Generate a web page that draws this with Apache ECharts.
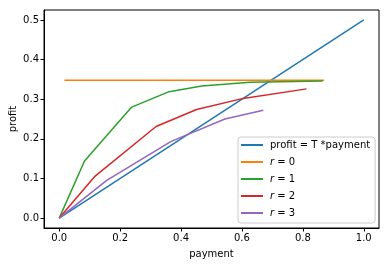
<!DOCTYPE html>
<html><head><meta charset="utf-8">
<script src="https://cdn.jsdelivr.net/npm/echarts@6/dist/echarts.min.js"></script>
<style>html,body{margin:0;padding:0;background:#fff}#c{width:389px;height:266px}</style>
</head><body><div id="c"></div>
<script>
var seriesNames = ['profit = T *payment', 'r = 0', 'r = 1', 'r = 2', 'r = 3'];
var xTicks = [0.0, 0.2, 0.4, 0.6, 0.8, 1.0];
var yTicks = [0.0, 0.1, 0.2, 0.3, 0.4, 0.5];
var baseX = [0, 1.0];
var baseY = [0, 0.5];
var r0X = [0.017, 0.87];
var r0Y = [0.348, 0.348];
var r1X = [0, 0.083, 0.238, 0.361, 0.468, 0.626, 0.865];
var r1Y = [0, 0.144, 0.280, 0.319, 0.333, 0.343, 0.346];
var r2X = [0, 0.118, 0.318, 0.451, 0.604, 0.812];
var r2Y = [0, 0.106, 0.231, 0.274, 0.302, 0.326];
var r3X = [0, 0.156, 0.366, 0.544, 0.670];
var r3Y = [0, 0.095, 0.193, 0.250, 0.272];
var colors = ['#1f77b4', '#ff7f0e', '#2ca02c', '#d62728', '#9467bd'];

function pairs(xs, ys) { return xs.map(function (x, i) { return [x, ys[i]]; }); }
var allX = [baseX, r0X, r1X, r2X, r3X];
var allY = [baseY, r0Y, r1Y, r2Y, r3Y];

var font = 'DejaVu Sans';
var chart = echarts.init(document.getElementById('c'), null, {renderer: 'canvas'});
chart.setOption({
  animation: false,
  color: colors,
  grid: {left: 44, right: 10, top: 10, bottom: 38, show: true, borderColor: '#000', borderWidth: 1,
    containLabel: false, outerBoundsMode: 'none'},
  xAxis: {
    type: 'value', min: -0.05, max: 1.05, interval: 0.2,
    name: 'payment', nameLocation: 'middle', nameGap: 21, nameMoveOverlap: false,
    nameTextStyle: {fontFamily: font, fontSize: 10, color: '#000'},
    axisLine: {show: true, onZero: false, lineStyle: {color: '#000', width: 1}},
    axisTick: {show: true, length: 3.5, lineStyle: {color: '#000'}, customValues: xTicks},
    axisLabel: {fontFamily: font, fontSize: 10, color: '#000', margin: 5, customValues: xTicks,
      formatter: function (v) { return v.toFixed(1); }},
    splitLine: {show: false}
  },
  yAxis: {
    type: 'value', min: -0.025, max: 0.525,
    name: 'profit', nameLocation: 'middle', nameGap: 31, nameRotate: 90, nameMoveOverlap: false,
    nameTextStyle: {fontFamily: font, fontSize: 10, color: '#000', verticalAlign: 'middle'},
    axisLine: {show: true, onZero: false, lineStyle: {color: '#000', width: 1}},
    axisTick: {show: true, length: 3.5, lineStyle: {color: '#000'}, customValues: yTicks},
    axisLabel: {fontFamily: font, fontSize: 10, color: '#000', margin: 5, customValues: yTicks,
      formatter: function (v) { return v.toFixed(1); }},
    splitLine: {show: false}
  },
  legend: {
    left: 238, top: 137, orient: 'vertical',
    itemWidth: 22, itemHeight: 2, itemGap: 5,
    padding: [2, 5, 4, 3],
    borderColor: '#ccc', borderWidth: 1, borderRadius: 3,
    backgroundColor: 'rgba(255,255,255,0.8)',
    textStyle: {fontFamily: font, fontSize: 10, color: '#000', lineHeight: 12, padding: [0, 0, 0, 2],
      rich: {i: {fontFamily: font, fontSize: 10, fontStyle: 'italic', color: '#000', lineHeight: 12}}},
    formatter: function (n) {
      if (n.indexOf('r = ') === 0) return '{i|r} = ' + n.slice(4);
      return n;
    },
    data: seriesNames.map(function (n) { return {name: n, icon: 'rect'}; })
  },
  series: seriesNames.map(function (n, i) {
    return {
      name: n, type: 'line', symbol: 'none', data: pairs(allX[i], allY[i]),
      lineStyle: {width: 1.5, color: colors[i]}, itemStyle: {color: colors[i]}, z: 2 + i
    };
  })
});
</script>
</body></html>
